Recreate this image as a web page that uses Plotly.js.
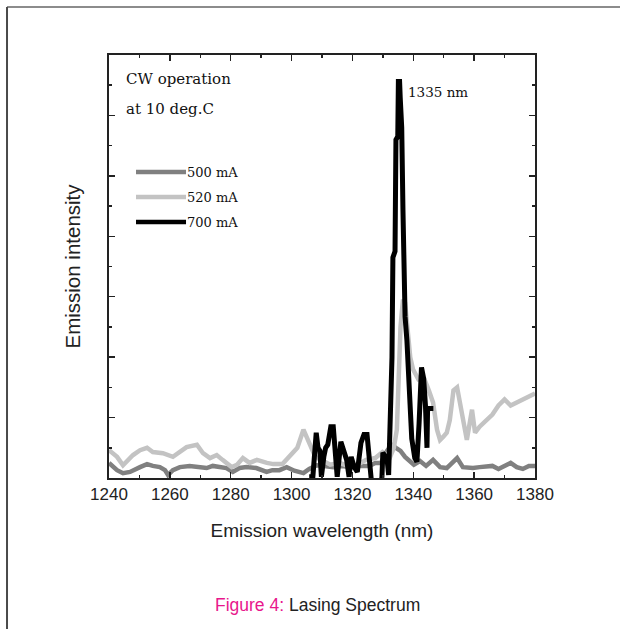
<!DOCTYPE html>
<html>
<head>
<meta charset="utf-8">
<script src="https://cdn.plot.ly/plotly-3.0.1.min.js"></script>
<style>
  html, body { margin: 0; padding: 0; background: #fff; }
  #chart { width: 620px; height: 629px; }
</style>
</head>
<body>
<div id="chart"></div>
<script>
// ---- Data ----
const seriesNames = ["500 mA", "520 mA", "700 mA"];
const seriesColors = ["#808080", "#c3c3c3", "#000000"];

const wl500 = [1240,1242.65,1244.6,1246.9,1250.2,1252.5,1254.4,1256.7,1258.4,1259.4,1261.0,1263.3,1266.5,1269.9,1272.1,1274.1,1276.4,1278.6,1280.7,1282.9,1285.2,1288.4,1291.8,1293.7,1296.0,1298.4,1300.9,1303.9,1305.8,1308.3,1310.7,1313.7,1316.6,1319.6,1322.5,1325.5,1327.5,1329.4,1331.4,1332.9,1334.3,1335.8,1337.3,1338.8,1340.2,1342.2,1344.2,1346.5,1348.8,1351.0,1354.4,1356.3,1359.6,1361.8,1366,1368,1370,1372,1374,1376,1378,1380];
const int500 = [0.25,0.13,0.08,0.1,0.18,0.23,0.2,0.18,0.13,0.05,0.13,0.18,0.2,0.18,0.165,0.2,0.18,0.165,0.1,0.165,0.18,0.165,0.1,0.13,0.13,0.18,0.12,0.08,0.15,0.21,0.2,0.18,0.2,0.18,0.2,0.2,0.25,0.25,0.45,0.55,0.5,0.45,0.35,0.27,0.22,0.28,0.2,0.3,0.18,0.165,0.33,0.18,0.165,0.18,0.2,0.15,0.2,0.25,0.18,0.15,0.2,0.2];

const wl520 = [1240,1242.65,1244.6,1247.9,1250.2,1252.5,1254.4,1257.7,1261.0,1263.3,1265.5,1268.9,1270.9,1273.2,1275.4,1277.3,1280.3,1282.1,1284.0,1286.2,1288.6,1291.9,1294.0,1297.0,1299.4,1301.9,1303.9,1306.0,1307.8,1309.8,1312.7,1315.7,1318.6,1321.6,1324.5,1327.5,1329.9,1332.4,1333.6,1334.6,1335.1,1335.8,1336.6,1337.3,1339.0,1339.9,1341.7,1343.7,1345.1,1346.5,1347.8,1348.8,1349.8,1351.0,1352.0,1353.2,1354.4,1356.0,1357.6,1359.3,1360.3,1361.8,1366,1368,1370,1372,1374,1376,1378,1380];
const int520 = [0.46,0.35,0.21,0.38,0.46,0.5,0.43,0.41,0.35,0.43,0.51,0.55,0.41,0.33,0.38,0.3,0.18,0.22,0.33,0.25,0.3,0.25,0.23,0.23,0.35,0.5,0.8,0.58,0.35,0.3,0.22,0.25,0.2,0.22,0.3,0.33,0.43,0.35,0.5,0.8,1.6,2.5,2.95,2.9,2.0,1.8,1.63,1.63,1.45,1.25,0.8,0.63,0.68,0.75,0.96,1.45,1.5,1.08,0.63,1.13,0.75,0.85,1.05,1.2,1.3,1.2,1.25,1.3,1.35,1.4];

const wl700 = [1305.8,1307.0,1308.1,1308.7,1309.3,1309.8,1310.6,1311.2,1311.9,1312.9,1313.7,1314.4,1315.0,1316.2,1317.1,1318.1,1318.9,1319.6,1320.6,1321.6,1322.8,1323.8,1324.8,1325.5,1326.0,1326.7,1329.0,1329.7,1330.0,1330.7,1331.4,1331.9,1332.4,1333.0,1333.3,1334.0,1334.3,1334.9,1335.1,1335.5,1335.7,1336.2,1336.6,1337.3,1337.9,1338.6,1339.5,1340.5,1341.2,1341.9,1342.7,1343.4,1344.0,1344.5,1344.7,1345.6,1346.6];
const int700 = [0.02,0.02,0.75,0.5,0.45,0.02,0.35,0.5,0.55,0.85,0.85,0.45,0.02,0.6,0.45,0.3,0.02,0.35,0.18,0.1,0.58,0.72,0.72,0.3,0.02,-0.3,-0.3,0.02,0.42,0.35,0.3,0.05,0.7,2.0,3.65,3.75,5.6,5.65,6.56,6.56,6.3,5.8,4.45,2.67,2.28,1.6,0.65,0.33,0.27,0.9,1.83,1.65,1.2,0.5,1.15,1.15,1.15];

const xTickVals = [1240,1260,1280,1300,1320,1340,1360,1380];
const xTickText = ["1240","1260","1280","1300","1320","1340","1360","1380"];

// ---- Build ----
const xs = [wl500, wl520, wl700];
const ys = [int500, int520, int700];
const lineWidths = [4.5, 4.5, 5];

const traces = xs.map((x, i) => ({
  type: "scatter",
  mode: "lines",
  x: x,
  y: ys[i],
  name: seriesNames[i],
  line: { color: seriesColors[i], width: lineWidths[i] },
  showlegend: false,
  hoverinfo: "x+y+name"
}));

const sans = "'Liberation Sans Narrow', 'Arial Narrow', 'Liberation Sans', Arial, sans-serif";
const serif = "'DejaVu Serif', 'Liberation Serif', serif";

// custom legend (line sample + label), built from series arrays
const legendY = [0.7234, 0.6643, 0.6052];
const shapes = [];
const annotations = [];
seriesNames.forEach((nm, i) => {
  shapes.push({
    type: "line", xref: "paper", yref: "paper",
    x0: 0.0634, x1: 0.1808, y0: legendY[i], y1: legendY[i],
    line: { color: seriesColors[i], width: 4.5 }
  });
  annotations.push({
    xref: "paper", yref: "paper", x: 0.178, y: legendY[i],
    xanchor: "left", yanchor: "middle", showarrow: false,
    text: nm, font: { family: serif, size: 13, color: "#111" }
  });
});

// figure frame lines
shapes.push({ type: "line", xref: "paper", yref: "paper",
  x0: -0.2394, x1: 1.21, y0: 1.1135, y1: 1.1135,
  line: { color: "#8c8c8c", width: 2 } });
shapes.push({ type: "line", xref: "paper", yref: "paper",
  x0: -0.2394, x1: -0.2394, y0: 1.1135, y1: -0.36,
  line: { color: "#4a4a4a", width: 2 } });

annotations.push(
  { xref: "paper", yref: "paper", x: 0.036, y: 0.943, xanchor: "left", yanchor: "middle",
    showarrow: false, text: "CW operation", font: { family: serif, size: 15, color: "#111" } },
  { xref: "paper", yref: "paper", x: 0.036, y: 0.872, xanchor: "left", yanchor: "middle",
    showarrow: false, text: "at 10 deg.C", font: { family: serif, size: 15, color: "#111" } },
  { xref: "paper", yref: "paper", x: 0.697, y: 0.9125, xanchor: "left", yanchor: "middle",
    showarrow: false, text: "1335 nm", font: { family: serif, size: 13.5, color: "#111" } },
  { xref: "paper", yref: "paper", x: 0.4906, y: -0.300, xanchor: "center", yanchor: "middle",
    showarrow: false,
    text: "<span style='color:#e8168c'>Figure 4:</span> Lasing Spectrum",
    font: { family: sans, size: 17.5, color: "#222" } }
);

const layout = {
  width: 620, height: 629,
  margin: { l: 109, r: 85, t: 55, b: 151 },
  paper_bgcolor: "#ffffff", plot_bgcolor: "#ffffff",
  showlegend: false,
  xaxis: {
    range: [1240, 1380],
    tickmode: "array", tickvals: xTickVals, ticktext: xTickText,
    ticks: "inside", ticklen: 6, tickwidth: 1.5, tickcolor: "#222",
    minor: { ticks: "inside", dtick: 10, tick0: 1240, ticklen: 3, tickwidth: 1.5, tickcolor: "#222" },
    showline: true, linecolor: "#222", linewidth: 2, mirror: "ticks",
    showgrid: false, zeroline: false,
    tickfont: { family: sans, size: 17, color: "#222" },
    title: { text: "Emission wavelength (nm)", font: { family: sans, size: 19, color: "#222" }, standoff: 20 }
  },
  yaxis: {
    range: [0, 7],
    tick0: 0, dtick: 1,
    ticks: "inside", ticklen: 6, tickwidth: 1.5, tickcolor: "#222",
    minor: { ticks: "inside", dtick: 0.5, ticklen: 3, tickwidth: 1.5, tickcolor: "#222" },
    showticklabels: false,
    showline: true, linecolor: "#222", linewidth: 2, mirror: "ticks",
    showgrid: false, zeroline: false,
    title: { text: "Emission intensity", font: { family: sans, size: 20.5, color: "#222" }, standoff: 21 }
  },
  shapes: shapes,
  annotations: annotations
};

Plotly.newPlot("chart", traces, layout, { displayModeBar: false, staticPlot: true });
</script>
</body>
</html>
